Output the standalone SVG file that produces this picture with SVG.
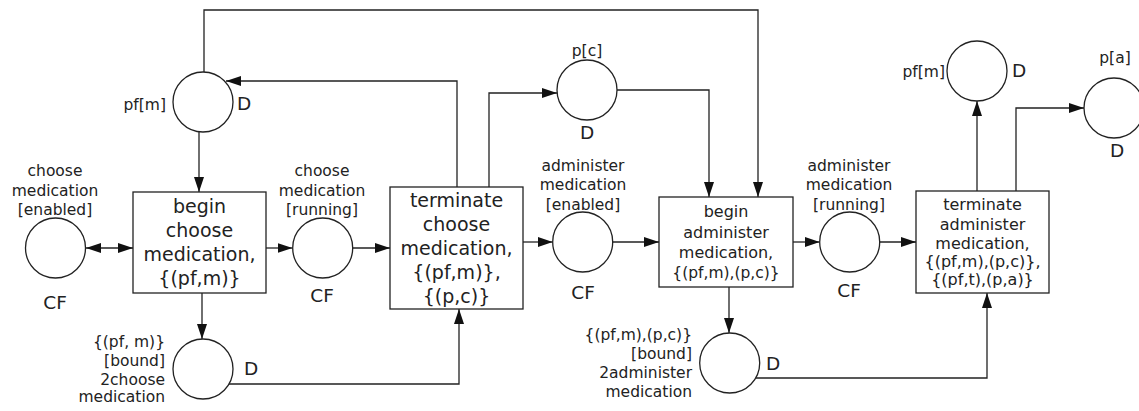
<svg xmlns="http://www.w3.org/2000/svg" width="1139" height="411" viewBox="0 0 1139 411">
<style>
text{font-family:"DejaVu Sans","Liberation Sans",sans-serif;fill:#222}
.lbl{font-size:15.5px}
.c{text-anchor:middle}
.r{text-anchor:end}
.big{font-size:19px}
.mid{font-size:16px}
.cf{font-size:18.5px}
.place{fill:#fff;stroke:#222;stroke-width:1.3}
.tr{fill:#fff;stroke:#222;stroke-width:1.3}
#connectors path{fill:none;stroke:#222;stroke-width:1.3}
</style>
<defs>
<marker id="ah" markerUnits="userSpaceOnUse" markerWidth="15" markerHeight="10" refX="15" refY="5" orient="auto-start-reverse">
<path d="M0,0 L15,5 L0,10 z" fill="#111"/>
</marker>
</defs>
<rect width="1139" height="411" fill="#fff"/>

<g id="connectors">
<path d="M86,248 H133" marker-start="url(#ah)" marker-end="url(#ah)"/>
<path d="M266,248 H292.5" marker-end="url(#ah)"/>
<path d="M352.7,248 H390" marker-end="url(#ah)"/>
<path d="M199,131 V192" marker-end="url(#ah)"/>
<path d="M202,293 V339" marker-end="url(#ah)"/>
<path d="M229,384 H459 V309" marker-end="url(#ah)"/>
<path d="M457,187 V81 H226" marker-end="url(#ah)"/>
<path d="M489,187 V93 H557" marker-end="url(#ah)"/>
<path d="M617,90 H709 V197" marker-end="url(#ah)"/>
<path d="M204,72 V10 H758 V197" marker-end="url(#ah)"/>
<path d="M523,242 H552.7" marker-end="url(#ah)"/>
<path d="M612.7,242 H659" marker-end="url(#ah)"/>
<path d="M729,287 V333" marker-end="url(#ah)"/>
<path d="M755.7,378 H987 V293" marker-end="url(#ah)"/>
<path d="M793,242 H819.7" marker-end="url(#ah)"/>
<path d="M879.7,242 H916" marker-end="url(#ah)"/>
<path d="M977,191 V101" marker-end="url(#ah)"/>
<path d="M1016,191 V108 H1084" marker-end="url(#ah)"/>
</g>

<g id="p_choose_enabled">
<circle class="place" cx="55.5" cy="248" r="30"/>
<text class="lbl c" x="55" y="176">choose</text>
<text class="lbl c" x="55" y="196">medication</text>
<text class="lbl c" x="55" y="215">[enabled]</text>
<text class="cf c" x="55" y="309">CF</text>
</g>

<g id="t_begin_choose">
<rect class="tr" x="133" y="192" width="133" height="101"/>
<text class="big c" x="199.5" y="213">begin</text>
<text class="big c" x="199.5" y="237">choose</text>
<text class="big c" x="199.5" y="261">medication,</text>
<text class="big c" x="199.5" y="285">{(pf,m)}</text>
</g>

<g id="p_pfm_left">
<circle class="place" cx="203" cy="102" r="30"/>
<text class="lbl r" x="166" y="110">pf[m]</text>
<text class="cf" x="237" y="110">D</text>
</g>

<g id="p_choose_running">
<circle class="place" cx="322.7" cy="248" r="30"/>
<text class="lbl c" x="322" y="176">choose</text>
<text class="lbl c" x="322" y="196">medication</text>
<text class="lbl c" x="322" y="215">[running]</text>
<text class="cf c" x="322" y="302">CF</text>
</g>

<g id="p_bound_choose">
<circle class="place" cx="203" cy="369" r="30"/>
<text class="lbl r" x="165" y="347">{(pf, m)}</text>
<text class="lbl r" x="165" y="366">[bound]</text>
<text class="lbl r" x="165" y="385">2choose</text>
<text class="lbl r" x="165" y="402">medication</text>
<text class="cf" x="244" y="375">D</text>
</g>

<g id="t_terminate_choose">
<rect class="tr" x="390" y="187" width="133" height="122"/>
<text class="big c" x="456.5" y="207">terminate</text>
<text class="big c" x="456.5" y="231">choose</text>
<text class="big c" x="456.5" y="255">medication,</text>
<text class="big c" x="456.5" y="279">{(pf,m)},</text>
<text class="big c" x="456.5" y="303">{(p,c)}</text>
</g>

<g id="p_pc">
<circle class="place" cx="587" cy="90" r="30"/>
<text class="lbl c" x="587" y="56">p[c]</text>
<text class="cf c" x="587" y="139">D</text>
</g>

<g id="p_admin_enabled">
<circle class="place" cx="582.7" cy="242" r="30"/>
<text class="lbl c" x="583" y="171">administer</text>
<text class="lbl c" x="583" y="190">medication</text>
<text class="lbl c" x="583" y="210">[enabled]</text>
<text class="cf c" x="583" y="299">CF</text>
</g>

<g id="t_begin_admin">
<rect class="tr" x="659" y="197" width="134" height="90"/>
<text class="mid c" x="726" y="217">begin</text>
<text class="mid c" x="726" y="238">administer</text>
<text class="mid c" x="726" y="258">medication,</text>
<text class="lbl c" x="726" y="278">{(pf,m),(p,c)}</text>
</g>

<g id="p_bound_admin">
<circle class="place" cx="729.7" cy="363" r="30"/>
<text class="lbl r" x="692" y="340">{(pf,m),(p,c)}</text>
<text class="lbl r" x="692" y="359">[bound]</text>
<text class="lbl r" x="692" y="378">2administer</text>
<text class="lbl r" x="692" y="397">medication</text>
<text class="cf" x="766" y="370">D</text>
</g>

<g id="p_admin_running">
<circle class="place" cx="849.7" cy="242" r="30"/>
<text class="lbl c" x="849" y="171">administer</text>
<text class="lbl c" x="849" y="190">medication</text>
<text class="lbl c" x="849" y="210">[running]</text>
<text class="cf c" x="849" y="297">CF</text>
</g>

<g id="t_terminate_admin">
<rect class="tr" x="916" y="191" width="133" height="102"/>
<text class="mid c" x="982.5" y="210">terminate</text>
<text class="mid c" x="982.5" y="230">administer</text>
<text class="mid c" x="982.5" y="249">medication,</text>
<text class="mid c" x="982.5" y="267">{(pf,m),(p,c)},</text>
<text class="mid c" x="982.5" y="285">{(pf,t),(p,a)}</text>
</g>

<g id="p_pfm_right">
<circle class="place" cx="977" cy="71" r="30"/>
<text class="lbl r" x="945" y="77">pf[m]</text>
<text class="cf" x="1012" y="77">D</text>
</g>

<g id="p_pa">
<circle class="place" cx="1114" cy="108" r="30"/>
<text class="lbl c" x="1115" y="63">p[a]</text>
<text class="cf c" x="1117" y="157">D</text>
</g>
</svg>
